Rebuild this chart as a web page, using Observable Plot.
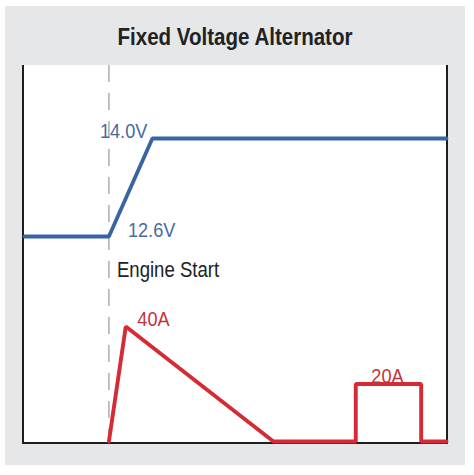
<!DOCTYPE html>
<html>
<head>
<meta charset="utf-8">
<script src="https://cdn.jsdelivr.net/npm/d3@7"></script>
<script src="https://cdn.jsdelivr.net/npm/@observablehq/plot@0.6"></script>
<style>
  body { margin: 0; background: #fff; }
  #panel { position: absolute; left: 5px; top: 6px; width: 460px; height: 459px; background: #e6e7e8; }
  #title { position: absolute; left: 0; top: 19px; width: 100%; text-align: center;
           font: bold 24px/24px "Liberation Sans", Arial, sans-serif; color: #222;
           transform: scaleX(0.855); transform-origin: 230px 0; }
  #chart { position: absolute; left: 17px; top: 59px; width: 422px; height: 377px; background: #fff;
           border-left: 2px solid #1e1e1e; border-right: 2px solid #1e1e1e; border-bottom: 2px solid #1e1e1e; }
  #chart svg { display: block; overflow: visible; }
</style>
</head>
<body>
<div id="panel">
  <div id="title"></div>
  <div id="chart"></div>
</div>
<script>
const title = "Fixed Voltage Alternator";
const engineStart = 20;
const eventLabel = "Engine Start";
// Voltage trace
const voltTime = [0, 20, 30.3, 100];
const voltValues = [12.6, 12.6, 14.0, 14.0];
const voltLabels = ["12.6V", "14.0V"];
// Current trace
const ampTime = [20, 24, 59, 78.5, 78.5, 94, 94, 100];
const ampValues = [0, 40, 0, 0, 20, 20, 0, 0];
const ampLabels = ["40A", "20A"];

document.getElementById("title").textContent = title;

const font = '"Liberation Sans", Arial, sans-serif';
const blue = "#3a63a2", blueText = "#4a6a9f";
const red = "#d62a35", redText = "#c5343c";
const dash = "17,11";

const voltData = voltTime.map((t, i) => ({t, v: voltValues[i]}));
const ampData = ampTime.map((t, i) => ({t, a: ampValues[i]}));

const voltPlot = Plot.plot({
  width: 422, height: 190,
  marginTop: 0, marginBottom: 0, marginLeft: 0, marginRight: 0,
  style: {fontFamily: font, overflow: "visible", background: "transparent"},
  x: {domain: [0, 100], range: [0, 422], axis: null},
  y: {domain: [12.6, 14.0], range: [171, 73], axis: null},
  marks: [
    Plot.ruleX([engineStart], {stroke: "#adadad", strokeWidth: 1.5, strokeDasharray: dash}),
    Plot.line(voltData, {x: "t", y: "v", stroke: blue, strokeWidth: 3.8, strokeLinejoin: "miter"}),
    Plot.text([{t: voltTime[1], v: voltValues[1], label: voltLabels[0]}], {
      x: "t", y: "v", text: "label", textAnchor: "start", lineAnchor: "middle",
      dx: 19, dy: -6, fontSize: 21, fill: blueText
    }),
    Plot.text([{t: voltTime[2], v: voltValues[2], label: voltLabels[1]}], {
      x: "t", y: "v", text: "label", textAnchor: "end", lineAnchor: "middle",
      dx: -5, dy: -7, fontSize: 21, fill: blueText
    })
  ]
});

const ampPlot = Plot.plot({
  width: 422, height: 187,
  marginTop: 0, marginBottom: 0, marginLeft: 0, marginRight: 0,
  style: {fontFamily: font, overflow: "visible", background: "transparent"},
  x: {domain: [0, 100], range: [0, 422], axis: null},
  y: {domain: [0, 40], range: [186, 71], axis: null},
  marks: [
    Plot.ruleX([engineStart], {stroke: "#adadad", strokeWidth: 1.5, strokeDasharray: dash, strokeDashoffset: 22}),
    Plot.text([{t: engineStart, label: eventLabel}], {
      x: "t", frameAnchor: "top", text: "label", textAnchor: "start", lineAnchor: "middle",
      dx: 8, dy: 14.5, fontSize: 21.5, fill: "#222"
    }),
    Plot.line(ampData, {x: "t", y: "a", stroke: red, strokeWidth: 3.9, strokeLinejoin: "miter"}),
    Plot.text([{t: ampTime[1], a: ampValues[1], label: ampLabels[0]}], {
      x: "t", y: "a", text: "label", textAnchor: "start", lineAnchor: "middle",
      dx: 11.5, dy: -7, fontSize: 21, fill: redText
    }),
    Plot.text([{t: (ampTime[4] + ampTime[5]) / 2, a: ampValues[4], label: ampLabels[1]}], {
      x: "t", y: "a", text: "label", textAnchor: "middle", lineAnchor: "middle",
      dx: -1, dy: -8, fontSize: 21, fill: redText
    })
  ]
});

// condensed look: narrow the glyphs horizontally around each text anchor
for (const svg of [voltPlot, ampPlot]) {
  svg.querySelectorAll("text").forEach(t => {
    const tr = t.getAttribute("transform") || "";
    t.setAttribute("transform", tr + " scale(0.865,1)");
  });
}

const chart = document.getElementById("chart");
chart.appendChild(voltPlot);
chart.appendChild(ampPlot);
</script>
</body>
</html>
